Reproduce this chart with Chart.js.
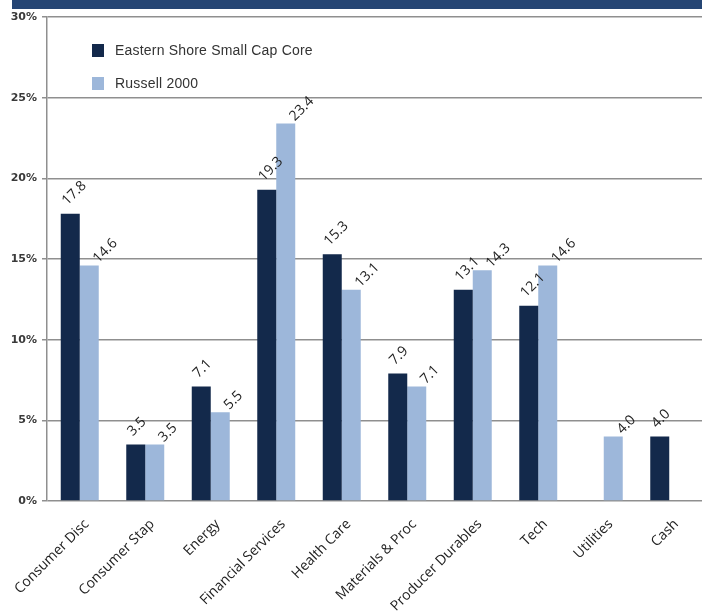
<!DOCTYPE html>
<html>
<head>
<meta charset="utf-8">
<script src="https://cdn.jsdelivr.net/npm/chart.js@4/dist/chart.umd.min.js"></script>
<style>
  body { margin: 0; background: #fff; }
  #wrap { position: relative; width: 702px; height: 611px; }
  #header { position: absolute; left: 12px; top: 0; width: 690px; height: 9px; background: #254574; }
  #legend { position: absolute; left: 92px; top: 42px; font-family: "Liberation Sans", Arial, sans-serif; font-size: 14px; letter-spacing: 0.2px; color: #333; }
  #legend div { height: 33px; display: flex; align-items: flex-start; }
  #legend span.sw { display: inline-block; width: 12px; height: 13px; margin-right: 11px; margin-top: 2px; }
</style>
</head>
<body>
<div id="wrap">
  <canvas id="sectorChart" width="702" height="611"></canvas>
  <div id="header"></div>
  <div id="legend"></div>
</div>
<script>
// sector weights, percent
const categories = ['Consumer Disc', 'Consumer Stap', 'Energy', 'Financial Services', 'Health Care',
  'Materials & Proc', 'Producer Durables', 'Tech', 'Utilities', 'Cash'];
const easternShore = [17.8, 3.5, 7.1, 19.3, 15.3, 7.9, 13.1, 12.1, null, 4.0];
const russell2000 = [14.6, 3.5, 5.5, 23.4, 13.1, 7.1, 14.3, 14.6, 4.0, null];
const yTicks = [0, 5, 10, 15, 20, 25, 30];

const seriesNames = ['Eastern Shore Small Cap Core', 'Russell 2000'];
const seriesColors = ['#13294b', '#9db7da'];
// where each series' value label starts, relative to the bar top centre
const labelShift = [[-3, -8], [9, -2]];

// legend sits inside the plot, top left
const legendEl = document.getElementById('legend');
seriesNames.forEach((name, i) => {
  const row = document.createElement('div');
  row.innerHTML = '<span class="sw" style="background:' + seriesColors[i] + '"></span>' + name;
  legendEl.appendChild(row);
});

// rotated value labels above each bar
const barLabels = {
  id: 'barLabels',
  afterDatasetsDraw(chart) {
    const ctx = chart.ctx;
    ctx.save();
    ctx.font = '14px "Open Sans", sans-serif';
    ctx.fillStyle = '#222';
    ctx.textAlign = 'left';
    ctx.textBaseline = 'alphabetic';
    chart.data.datasets.forEach((ds, di) => {
      chart.getDatasetMeta(di).data.forEach((bar, i) => {
        const v = ds.data[i];
        if (v === null) return;
        ctx.save();
        ctx.translate(bar.x + labelShift[di][0], bar.y + labelShift[di][1]);
        ctx.rotate(-Math.PI / 4);
        ctx.fillText(v.toFixed(1), 0, 0);
        ctx.restore();
      });
    });
    ctx.restore();
  }
};

const ctx = document.getElementById('sectorChart').getContext('2d');
new Chart(ctx, {
  type: 'bar',
  data: {
    labels: categories,
    datasets: [
      { label: seriesNames[0], data: easternShore, backgroundColor: seriesColors[0] },
      { label: seriesNames[1], data: russell2000, backgroundColor: seriesColors[1] }
    ]
  },
  options: {
    responsive: false,
    animation: false,
    layout: { padding: { top: 17, right: 0, left: 0, bottom: 0 } },
    datasets: { bar: { barPercentage: 1.0, categoryPercentage: 0.58 } },
    plugins: { legend: { display: false }, tooltip: { enabled: false } },
    scales: {
      x: {
        grid: { display: false },
        border: { display: false },
        ticks: {
          color: '#222',
          font: { family: '"Open Sans", sans-serif', size: 14 },
          minRotation: 45,
          maxRotation: 45,
          labelOffset: 7,
          padding: 7
        },
        afterFit: (scale) => {
          scale.height = 110;
          scale.paddingLeft = 0;
          scale.paddingRight = 0;
        }
      },
      y: {
        min: 0,
        max: 30,
        afterBuildTicks: (scale) => { scale.ticks = yTicks.map(v => ({ value: v })); },
        grid: { color: '#8f8f8f', lineWidth: 1.5, tickLength: 5 },
        border: { color: '#8f8f8f', width: 1.5 },
        ticks: {
          color: '#3a3a3a',
          font: { family: '"DejaVu Sans", sans-serif', size: 11, weight: 'bold' },
          padding: 5,
          callback: (v) => v + '%'
        },
        afterFit: (scale) => { scale.width = 47; }
      }
    }
  },
  plugins: [barLabels]
});
</script>
</body>
</html>
